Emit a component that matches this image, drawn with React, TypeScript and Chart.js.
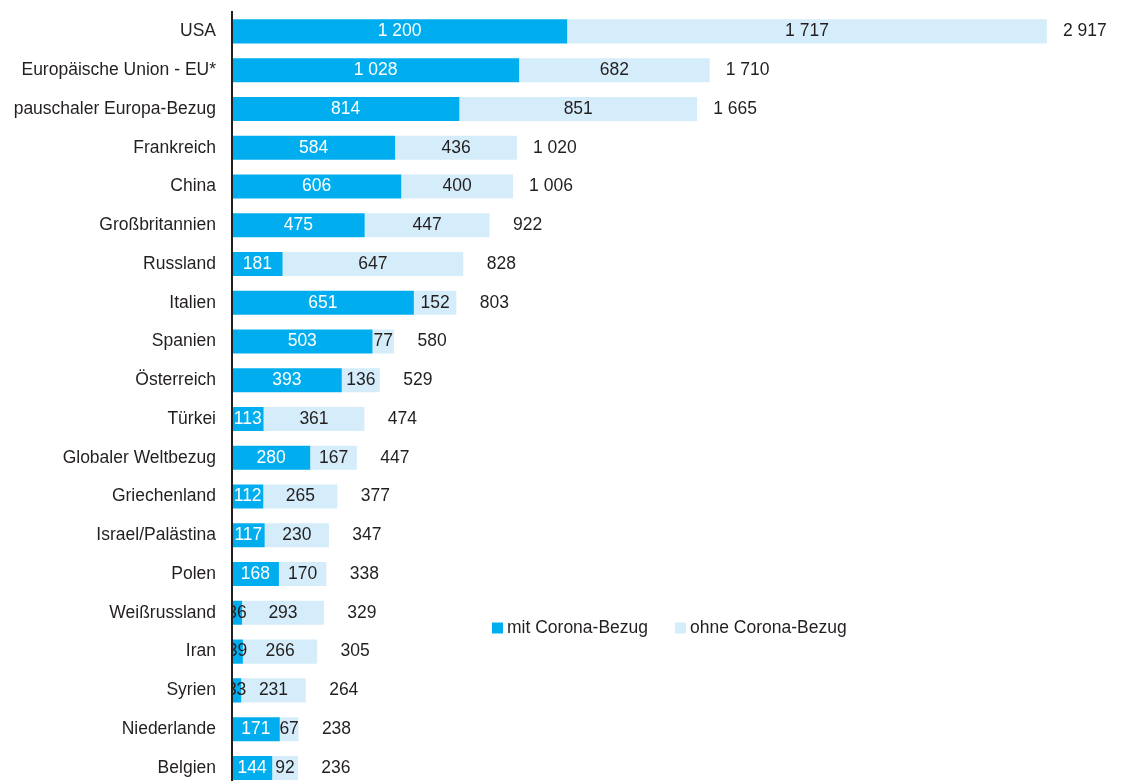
import React, { useEffect, useRef } from "react";
import { Chart, registerables } from "chart.js";

Chart.register(...registerables);

const categories = [
  "USA",
  "Europäische Union - EU*",
  "pauschaler Europa-Bezug",
  "Frankreich",
  "China",
  "Großbritannien",
  "Russland",
  "Italien",
  "Spanien",
  "Österreich",
  "Türkei",
  "Globaler Weltbezug",
  "Griechenland",
  "Israel/Palästina",
  "Polen",
  "Weißrussland",
  "Iran",
  "Syrien",
  "Niederlande",
  "Belgien",
];

const mitCorona = [1200, 1028, 814, 584, 606, 475, 181, 651, 503, 393, 113, 280, 112, 117, 168, 36, 39, 33, 171, 144];
const ohneCorona = [1717, 682, 851, 436, 400, 447, 647, 152, 77, 136, 361, 167, 265, 230, 170, 293, 266, 231, 67, 92];

const seriesNames = ["mit Corona-Bezug", "ohne Corona-Bezug"];

const DARK = "#00aeef";
const LIGHT = "#d5edfa";
const TEXT = "#231f20";
const FONT_FAMILY = "'Liberation Sans', Arial, sans-serif";
const FONT_SIZE = 17.5;

const fmt = (v: number) => String(v).replace(/\B(?=(\d{3})+(?!\d))/g, " ");

const labelPlugin = {
  id: "segLabels",
  afterDatasetsDraw(chart: any) {
    const ctx = chart.ctx;
    const area = chart.chartArea;
    ctx.save();
    ctx.font = `${FONT_SIZE}px ${FONT_FAMILY}`;
    ctx.textBaseline = "middle";
    ctx.textAlign = "center";
    ctx.beginPath();
    ctx.rect(area.left, 0, chart.width - area.left, chart.height);
    ctx.clip();
    chart.data.datasets.forEach((ds: any, di: number) => {
      const meta = chart.getDatasetMeta(di);
      meta.data.forEach((el: any, i: number) => {
        const v = ds.data[i];
        const txt = fmt(v);
        const left = Math.min(el.base, el.x);
        const right = Math.max(el.base, el.x);
        const cx = (left + right) / 2;
        const w = ctx.measureText(txt).width;
        if (di === 0 && w <= right - left) ctx.fillStyle = "#ffffff";
        else ctx.fillStyle = TEXT;
        ctx.fillText(txt, cx, el.y);
      });
    });
    // totals
    const lastMeta = chart.getDatasetMeta(chart.data.datasets.length - 1);
    lastMeta.data.forEach((el: any, i: number) => {
      const total = chart.data.datasets.reduce((s: number, d: any) => s + d.data[i], 0);
      ctx.fillStyle = TEXT;
      ctx.fillText(fmt(total), el.x + 38, el.y);
    });
    ctx.restore();
  },
};

const legendPlugin = {
  id: "customLegend",
  afterDraw(chart: any) {
    const ctx = chart.ctx;
    ctx.save();
    ctx.font = `${FONT_SIZE}px ${FONT_FAMILY}`;
    ctx.textBaseline = "middle";
    ctx.textAlign = "left";
    const y = 628;
    const positions = [492, 675];
    chart.data.datasets.forEach((ds: any, di: number) => {
      const x = positions[di];
      ctx.fillStyle = ds.backgroundColor;
      ctx.fillRect(x, y - 5.5, 11, 11);
      ctx.fillStyle = TEXT;
      ctx.fillText(ds.label, x + 15, y);
    });
    ctx.restore();
  },
};

export default function App() {
  const ref = useRef<HTMLCanvasElement | null>(null);

  useEffect(() => {
    if (!ref.current) return;
    const chart = new Chart(ref.current, {
      type: "bar",
      data: {
        labels: categories,
        datasets: [
          { label: seriesNames[0], data: mitCorona, backgroundColor: DARK, barPercentage: 0.62, categoryPercentage: 1 },
          { label: seriesNames[1], data: ohneCorona, backgroundColor: LIGHT, barPercentage: 0.62, categoryPercentage: 1 },
        ],
      },
      options: {
        indexAxis: "y",
        responsive: false,
        animation: false,
        layout: { padding: { top: 12, bottom: 12.7, right: 76, left: 0 } },
        plugins: {
          legend: { display: false },
          tooltip: { enabled: false },
        },
        scales: {
          x: {
            stacked: true,
            min: 0,
            max: 3000,
            display: false,
          },
          y: {
            stacked: true,
            grid: { display: false, drawTicks: false },
            border: { display: true, color: TEXT, width: 2, z: 1 },
            ticks: {
              color: TEXT,
              padding: 16,
              font: { family: FONT_FAMILY, size: FONT_SIZE },
            },
            afterFit(scale: any) {
              scale.width = 232;
              scale.paddingTop = 0;
              scale.paddingBottom = 0;
            },
          },
        },
      },
      plugins: [labelPlugin, legendPlugin],
    });
    return () => chart.destroy();
  }, []);

  return (
    <div style={{ position: "absolute", left: 0, top: 0, width: 1146, height: 781, overflow: "hidden", background: "#fff" }}>
      <canvas ref={ref} width={1146} height={800} style={{ display: "block" }} />
    </div>
  );
}
